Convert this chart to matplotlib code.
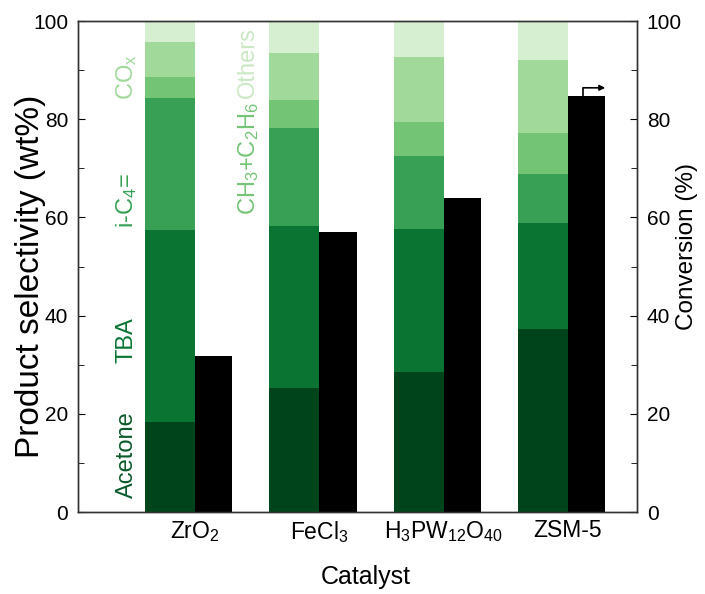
import numpy as np
import matplotlib
matplotlib.use("Agg")
import matplotlib.pyplot as plt
from matplotlib import font_manager

plt.rcParams['font.family'] = ['Liberation Sans', 'DejaVu Sans']
plt.rcParams['mathtext.default'] = 'regular'

# data
catalysts = [r'ZrO$_2$', r'FeCl$_3$', r'H$_3$PW$_{12}$O$_{40}$', 'ZSM-5']
products = ['Acetone', 'TBA', r'i-C$_4$=', r'CH$_3$+C$_2$H$_6$', r'CO$_x$', 'Others']
acetone = [18.4, 25.3, 28.5, 37.3]
tba = [39.0, 32.9, 29.1, 21.5]
ic4 = [26.9, 20.1, 14.9, 10.0]
ch3_c2h6 = [4.2, 5.7, 7.0, 8.3]
cox = [7.3, 9.5, 13.1, 15.0]
others = [4.2, 6.5, 7.4, 7.9]
conversion = [31.8, 57.1, 63.9, 84.8]

colors = ['#00441b', '#0a7533', '#37a055', '#74c476', '#a1d99b', '#d6efd0']

# narrow face for the tick numbers, if it is there
installed = {f.name for f in font_manager.fontManager.ttflist}
if 'Liberation Sans Narrow' in installed:
    tick_family, tick_fs = ['Liberation Sans Narrow', 'DejaVu Sans'], 17
else:
    tick_family, tick_fs = ['Liberation Sans', 'DejaVu Sans'], 15

fig = plt.figure(figsize=(7.05, 5.94), dpi=100)
ax = fig.add_axes([0.1106, 0.138, 0.7929, 0.8266])
ax2 = ax.twinx()

x = np.arange(len(catalysts))
w_sel, w_conv = 0.40, 0.30

bottom = np.zeros(len(catalysts))
for vals, c in zip([acetone, tba, ic4, ch3_c2h6, cox, others], colors):
    ax.bar(x - w_sel / 2, vals, w_sel, bottom=bottom, color=c, edgecolor='none')
    bottom += np.array(vals)

ax2.bar(x + w_conv / 2, conversion, w_conv, color='black', edgecolor='none')

# arrow showing conversion belongs to right axis
i = 3
ax2.annotate('', xy=(x[i] + 0.30, conversion[i] + 1.6),
             xytext=(x[i] + 0.125, conversion[i] + 1.6),
             arrowprops=dict(arrowstyle='-|>', color='black', lw=1.2,
                             mutation_scale=8, shrinkA=0, shrinkB=0))
ax2.plot([x[i] + 0.125, x[i] + 0.125], [conversion[i], conversion[i] + 1.6],
         color='black', lw=1.2)

# product labels
lab_fs = 17
ax.text(-0.547, 11.6, products[0], rotation=90, color='#0b5a2a', fontsize=lab_fs, ha='center', va='center')
ax.text(-0.547, 35.0, products[1], rotation=90, color=colors[1], fontsize=lab_fs, ha='center', va='center')
ax.text(-0.547, 63.5, products[2], rotation=90, color=colors[2], fontsize=lab_fs, ha='center', va='center')
ax.text(-0.547, 88.5, products[4], rotation=90, color=colors[4], fontsize=lab_fs, ha='center', va='center')
ax.text(0.43, 72.0, products[3], rotation=90, color=colors[3], fontsize=lab_fs, ha='center', va='center')
ax.text(0.43, 91.6, products[5], rotation=90, color='#cbe8c4', fontsize=lab_fs, ha='center', va='center')

ax.set_xlim(-0.94, 3.555)
ax.set_ylim(0, 100)
ax2.set_ylim(0, 100)
ax.set_xticks(x)
ax.set_xticklabels(catalysts, fontsize=16.5)
ax.tick_params(axis='x', length=0, pad=5)

for a, side in [(ax, 'left'), (ax2, 'right')]:
    a.set_yticks(np.arange(0, 101, 20))
    a.set_yticks(np.arange(10, 100, 20), minor=True)
    a.tick_params(axis='y', which='major', direction='in', length=5, pad=7,
                  left=(side == 'left'), right=(side == 'right'))
    a.tick_params(axis='y', which='minor', direction='in', length=4,
                  left=(side == 'left'), right=(side == 'right'))
    for t in a.get_yticklabels():
        t.set_family(tick_family)
        t.set_fontsize(tick_fs)

ax.set_ylabel('Product selectivity (wt%)', fontsize=24)
ax.yaxis.set_label_coords(-0.058, 0.48)
ax2.set_ylabel('Conversion (%)', fontsize=17.5, rotation=90)
ax2.yaxis.set_label_coords(1.07, 0.54)
ax.set_xlabel('Catalyst', fontsize=18)
ax.xaxis.set_label_coords(0.515, -0.108)

for a in (ax, ax2):
    for s in a.spines.values():
        s.set_linewidth(1.0)
        s.set_color('#333333')

fig.savefig('out.png', dpi=100)
